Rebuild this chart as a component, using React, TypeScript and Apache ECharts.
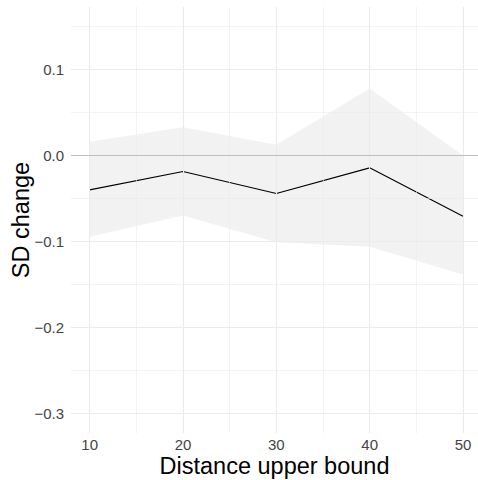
import React, { useEffect, useRef } from "react";
import * as echarts from "echarts";

// Distance upper bound (x) and the SD change estimate with its interval
const distances = [10, 20, 30, 40, 50];
const sdChange = [-0.04, -0.0186, -0.0442, -0.0144, -0.0706];
const upperBound = [0.0158, 0.0329, 0.0123, 0.0779, 0.0];
const lowerBound = [-0.0946, -0.0698, -0.1008, -0.1062, -0.1384];

// Tick positions
const xMajorTicks = [10, 20, 30, 40, 50];
const xMinorTicks = [15, 25, 35, 45];
const yMajorTicks = [-0.3, -0.2, -0.1, 0, 0.1];
const yMinorTicks = [-0.25, -0.15, -0.05, 0.05, 0.15];

const FONT = '"Liberation Sans", Arial, Helvetica, sans-serif';
const GRID_COLOR = "#ebebeb";
const TICK_COLOR = "#444444";

function fmtY(v: number): string {
  if (Math.abs(v) < 1e-9) return "0.0";
  const s = v.toFixed(1);
  return s.replace("-", "\u2212");
}

export default function App() {
  const ref = useRef<HTMLDivElement>(null);

  useEffect(() => {
    document.body.style.margin = "0";
    if (!ref.current) return;
    const chart = echarts.init(ref.current, undefined, { renderer: "svg" });

    const gridLines = [
      ...xMajorTicks.map((v) => ({ xAxis: v, lineStyle: { color: GRID_COLOR, width: 1.1, type: "solid" } })),
      ...xMinorTicks.map((v) => ({ xAxis: v, lineStyle: { color: GRID_COLOR, width: 0.6, type: "solid" } })),
      ...yMajorTicks.map((v) => ({ yAxis: v, lineStyle: { color: GRID_COLOR, width: 1.1, type: "solid" } })),
      ...yMinorTicks.map((v) => ({ yAxis: v, lineStyle: { color: GRID_COLOR, width: 0.6, type: "solid" } })),
    ];

    const option: any = {
      animation: false,
      backgroundColor: "#ffffff",
      grid: { left: 71, top: 7, right: 0, bottom: 47, containLabel: false },
      xAxis: {
        type: "value",
        min: 8,
        max: 51.61,
        axisLine: { show: false },
        axisTick: { show: false },
        splitLine: { show: false },
        axisLabel: {
          customValues: xMajorTicks,
          color: TICK_COLOR,
          fontSize: 15,
          fontFamily: FONT,
          margin: 4,
        },
      },
      yAxis: {
        type: "value",
        min: -0.3225,
        max: 0.1725,
        axisLine: { show: false },
        axisTick: { show: false },
        splitLine: { show: false },
        axisLabel: {
          customValues: yMajorTicks,
          formatter: (v: number) => fmtY(v),
          color: TICK_COLOR,
          fontSize: 15,
          fontFamily: FONT,
          margin: 7,
        },
      },
      series: [
        {
          name: "grid",
          type: "line",
          data: [],
          z: 1,
          silent: true,
          markLine: {
            silent: true,
            symbol: ["none", "none"],
            label: { show: false },
            animation: false,
            data: gridLines,
          },
        },
        {
          name: "interval",
          type: "custom",
          z: 2,
          silent: true,
          data: distances.map((d, i) => [d, lowerBound[i], upperBound[i]]),
          renderItem: (params: any, api: any) => {
            if (params.dataIndex !== 0) return null;
            const top = distances.map((d, i) => api.coord([d, upperBound[i]]));
            const bottom = distances
              .map((d, i) => api.coord([d, lowerBound[i]]))
              .reverse();
            return {
              type: "polygon",
              shape: { points: [...top, ...bottom] },
              style: { fill: "rgba(190,190,190,0.2)", stroke: "none" },
            };
          },
        },
        {
          name: "zero",
          type: "line",
          data: [],
          z: 3,
          silent: true,
          markLine: {
            silent: true,
            symbol: ["none", "none"],
            label: { show: false },
            animation: false,
            data: [{ yAxis: 0, lineStyle: { color: "#bebebe", width: 1.1, type: "solid" } }],
          },
        },
        {
          name: "SD change",
          type: "line",
          z: 4,
          data: distances.map((d, i) => [d, sdChange[i]]),
          showSymbol: false,
          symbol: "none",
          lineStyle: { color: "#000000", width: 1.1 },
        },
      ],
      graphic: [
        {
          type: "text",
          x: 274.5,
          y: 466,
          style: {
            text: "Distance upper bound",
            fontSize: 23.5,
            fontFamily: FONT,
            fill: "#000000",
            align: "center",
            verticalAlign: "middle",
          },
        },
        {
          type: "text",
          x: 21,
          y: 220,
          rotation: Math.PI / 2,
          style: {
            text: "SD change",
            fontSize: 23.5,
            fontFamily: FONT,
            fill: "#000000",
            align: "center",
            verticalAlign: "middle",
          },
        },
      ],
    };

    chart.setOption(option);
    return () => chart.dispose();
  }, []);

  return (
    <div
      ref={ref}
      style={{ position: "absolute", left: 0, top: 0, width: 478, height: 480, overflow: "hidden" }}
    />
  );
}
